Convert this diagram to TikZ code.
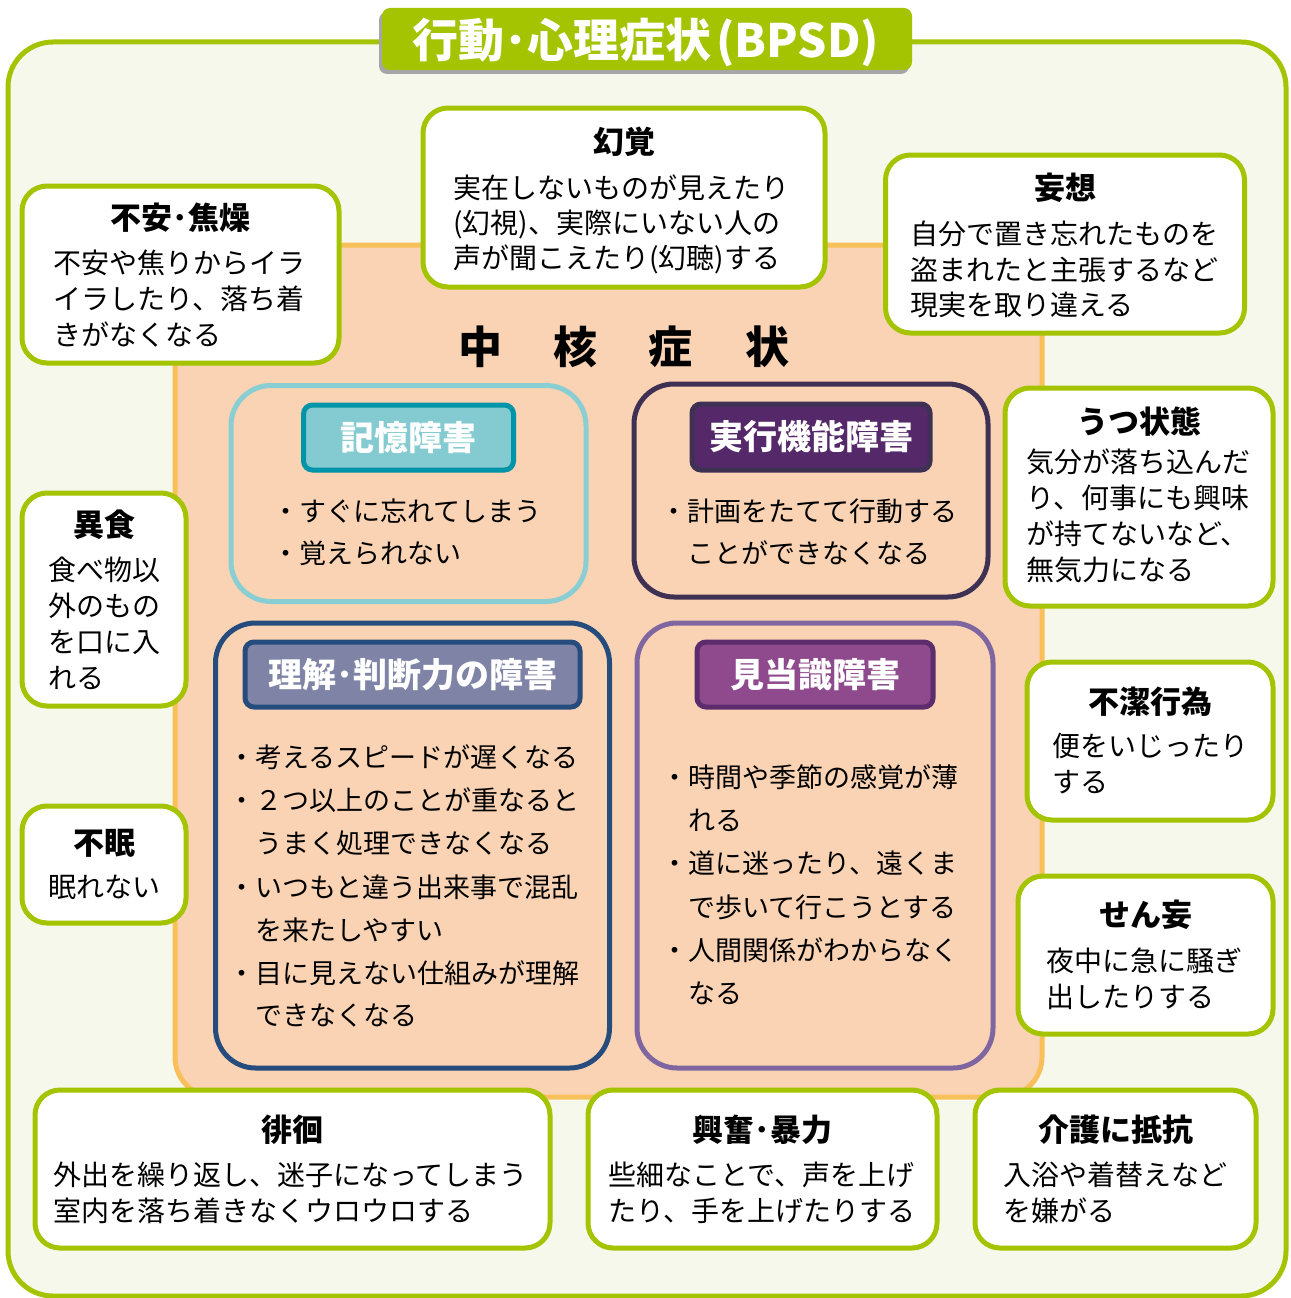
\documentclass[tikz,border=0pt]{standalone}
\usepackage{fontspec}
\setmainfont{Noto Sans CJK JP}
\definecolor{grn}{HTML}{A4C300}
\definecolor{bgc}{HTML}{F6F8EC}
\definecolor{peach}{HTML}{F9D3B3}
\definecolor{orng}{HTML}{F8C05A}
\definecolor{tealL}{HTML}{88CED3}
\definecolor{tealF}{HTML}{84CBD1}
\definecolor{tealD}{HTML}{0094A8}
\definecolor{purD}{HTML}{3F3154}
\definecolor{purF}{HTML}{55286A}
\definecolor{navy}{HTML}{254C7D}
\definecolor{slate}{HTML}{7F84A6}
\definecolor{lav}{HTML}{7F66A1}
\definecolor{magF}{HTML}{8E4A8D}
\definecolor{magD}{HTML}{5C2C6C}
\tikzset{
 gbox/.style={draw=grn, fill=white, line width=5pt, rounded corners=25pt, inner sep=0pt, outer sep=0pt},
 qbox/.style={line width=5pt, rounded corners=40pt, inner sep=0pt},
 hbox/.style={line width=5pt, rounded corners=9pt, inner sep=0pt, text=white,
   font=\bfseries\fontsize{34}{34}\selectfont, text height=29.9pt, text depth=4.1pt},
 gtitle/.style={inner sep=0pt, font=\bfseries\fontsize{31}{31}\selectfont, text height=27.3pt, text depth=3.7pt},
 gtxt/.style={inner sep=0pt, anchor=west, font=\fontsize{28}{28}\selectfont, text height=24.6pt, text depth=3.4pt},
 qtxt/.style={inner sep=0pt, anchor=west, font=\fontsize{27}{27}\selectfont, text height=23.8pt, text depth=3.2pt},
 core/.style={inner sep=0pt, font=\bfseries\fontsize{44}{44}\selectfont, text height=38.7pt, text depth=5.3pt},
}
\begin{document}
\begin{tikzpicture}[x=1pt,y=-1pt]
\useasboundingbox (0,0) rectangle (1290,1298);
% outer frame
\node[draw=grn, fill=bgc, line width=5pt, rounded corners=45pt, minimum width=1278pt, minimum height=1254pt, inner sep=0pt] (frame) at (647,669) {};
% title
\node[fill=black!35, rounded corners=8pt, minimum width=530pt, minimum height=62pt, inner sep=0pt] (ttlsh) at (644,43) {};
\node[fill=grn, rounded corners=8pt, minimum width=530pt, minimum height=62pt, inner sep=0pt] (ttlbox) at (647,39) {};
\node[inner sep=0pt, text=white, font=\bfseries\fontsize{46}{46}\selectfont, text height=40.5pt, text depth=5.5pt] (ttltxt) at (646,40) {行動･心理症状\kern0.1em(BPSD)};
% core area
\node[draw=orng, fill=peach, line width=5pt, rounded corners=40pt, minimum width=867pt, minimum height=852pt, inner sep=0pt] (corearea) at (608.5,671) {};
\node[core] (c1) at (480,347) {中};
\node[core] (c2) at (575,347) {核};
\node[core] (c3) at (670,347) {症};
\node[core] (c4) at (767,347) {状};
% memory
\node[qbox, draw=tealL, minimum width=355pt, minimum height=216pt] (mem) at (408.5,493.5) {};
\node[hbox, draw=tealD, fill=tealF, minimum width=210pt, minimum height=65pt] (memh) at (408.5,437.5) {記憶障害};
\node[qtxt] (mem1) at (272,511) {・すぐに忘れてしまう};
\node[qtxt] (mem2) at (272,553) {・覚えられない};
% executive
\node[qbox, draw=purD, minimum width=354pt, minimum height=213pt] (exe) at (811,490.5) {};
\node[hbox, draw=purD, fill=purF, minimum width=238pt, minimum height=66pt] (exeh) at (811,437) {実行機能障害};
\node[qtxt] (exe1) at (660,511) {・計画をたてて行動する};
\node[qtxt] (exe2) at (660,553) {　ことができなくなる};
% understanding
\node[qbox, draw=navy, minimum width=394pt, minimum height=445pt] (und) at (412.5,845.5) {};
\node[hbox, draw=navy, fill=slate, minimum width=335pt, minimum height=65pt] (undh) at (412.5,674.5) {理解･判断力の障害};
\node[qtxt] (und1) at (228,757) {・考えるスピードが遅くなる};
\node[qtxt] (und2) at (228,800) {・２つ以上のことが重なると};
\node[qtxt] (und3) at (228,843) {　うまく処理できなくなる};
\node[qtxt] (und4) at (228,887) {・いつもと違う出来事で混乱};
\node[qtxt] (und5) at (228,930) {　を来たしやすい};
\node[qtxt] (und6) at (228,973) {・目に見えない仕組みが理解};
\node[qtxt] (und7) at (228,1015) {　できなくなる};
% orientation
\node[qbox, draw=lav, minimum width=356pt, minimum height=445pt] (ori) at (815,845.5) {};
\node[hbox, draw=magD, fill=magF, minimum width=236pt, minimum height=65pt] (orih) at (815,674.5) {見当識障害};
\node[qtxt] (ori1) at (661,777) {・時間や季節の感覚が薄};
\node[qtxt] (ori2) at (661,820) {　れる};
\node[qtxt] (ori3) at (661,863) {・道に迷ったり、遠くま};
\node[qtxt] (ori4) at (661,907) {　で歩いて行こうとする};
\node[qtxt] (ori5) at (661,950) {・人間関係がわからなく};
\node[qtxt] (ori6) at (661,993) {　なる};
% BPSD boxes
\node[gbox, minimum width=317pt, minimum height=177pt] (anx) at (180.5,274.5) {};
\node[gtitle] (anxT) at (180.5,218) {不安･焦燥};
\node[gtxt] (anx1) at (53,263) {不安や焦りからイラ};
\node[gtxt] (anx2) at (53,299) {イラしたり、落ち着};
\node[gtxt] (anx3) at (53,335) {きがなくなる};

\node[gbox, minimum width=402pt, minimum height=179pt] (hal) at (624,197.5) {};
\node[gtitle] (halT) at (624,142) {幻覚};
\node[gtxt] (hal1) at (453,188) {実在しないものが見えたり};
\node[gtxt] (hal2) at (453,223) {(幻視)、実際にいない人の};
\node[gtxt] (hal3) at (453,258) {声が聞こえたり(幻聴)する};

\node[gbox, minimum width=359pt, minimum height=178pt] (dlu) at (1065,244) {};
\node[gtitle] (dluT) at (1065,188) {妄想};
\node[gtxt] (dlu1) at (910,234) {自分で置き忘れたものを};
\node[gtxt] (dlu2) at (910,270) {盗まれたと主張するなど};
\node[gtxt] (dlu3) at (910,305) {現実を取り違える};

\node[gbox, minimum width=268pt, minimum height=218pt] (dep) at (1139,497) {};
\node[gtitle] (depT) at (1139,422) {うつ状態};
\node[gtxt] (dep1) at (1026,462) {気分が落ち込んだ};
\node[gtxt] (dep2) at (1026,498) {り、何事にも興味};
\node[gtxt] (dep3) at (1026,534) {が持てないなど、};
\node[gtxt] (dep4) at (1026,570) {無気力になる};

\node[gbox, minimum width=164pt, minimum height=213pt] (pic) at (104,599.5) {};
\node[gtitle] (picT) at (104,525) {異食};
\node[gtxt] (pic1) at (48,570) {食べ物以};
\node[gtxt] (pic2) at (48,606) {外のもの};
\node[gtxt] (pic3) at (48,642) {を口に入};
\node[gtxt] (pic4) at (48,678) {れる};

\node[gbox, minimum width=164pt, minimum height=117pt] (ins) at (104,864.5) {};
\node[gtitle] (insT) at (104,843) {不眠};
\node[gtxt] (ins1) at (48,887) {眠れない};

\node[gbox, minimum width=246pt, minimum height=158pt] (unc) at (1150,741) {};
\node[gtitle] (uncT) at (1150,702) {不潔行為};
\node[gtxt] (unc1) at (1052,746) {便をいじったり};
\node[gtxt] (unc2) at (1052,782) {する};

\node[gbox, minimum width=255pt, minimum height=158pt] (dlr) at (1145.5,955) {};
\node[gtitle] (dlrT) at (1145.5,915) {せん妄};
\node[gtxt] (dlr1) at (1046,961) {夜中に急に騒ぎ};
\node[gtxt] (dlr2) at (1046,997) {出したりする};

\node[gbox, minimum width=515pt, minimum height=158pt] (wan) at (292.5,1169) {};
\node[gtitle] (wanT) at (292.5,1130) {徘徊};
\node[gtxt] (wan1) at (53,1175) {外出を繰り返し、迷子になってしまう};
\node[gtxt] (wan2) at (53,1211) {室内を落ち着きなくウロウロする};

\node[gbox, minimum width=349pt, minimum height=158pt] (agg) at (762.5,1169) {};
\node[gtitle] (aggT) at (762.5,1130) {興奮･暴力};
\node[gtxt] (agg1) at (608,1175) {些細なことで、声を上げ};
\node[gtxt] (agg2) at (608,1211) {たり、手を上げたりする};

\node[gbox, minimum width=281pt, minimum height=158pt] (res) at (1115.5,1169) {};
\node[gtitle] (resT) at (1115.5,1130) {介護に抵抗};
\node[gtxt] (res1) at (1003,1175) {入浴や着替えなど};
\node[gtxt] (res2) at (1003,1211) {を嫌がる};
\end{tikzpicture}
\end{document}
